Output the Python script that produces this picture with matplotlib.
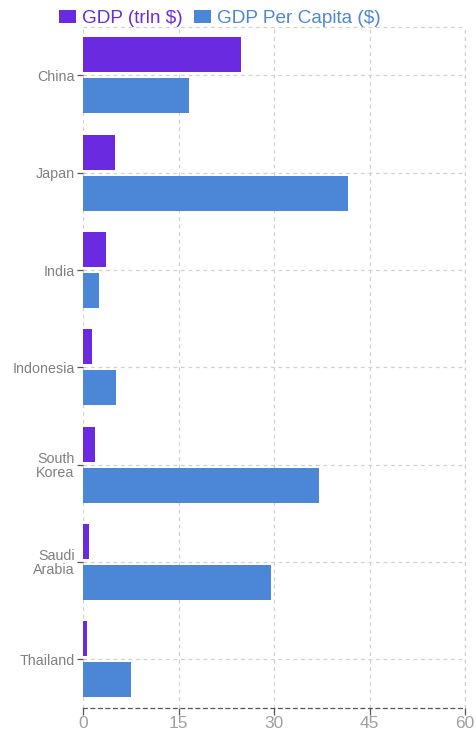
import matplotlib
matplotlib.use("Agg")
import matplotlib.pyplot as plt
import numpy as np

plt.rcParams['font.family'] = ['Liberation Sans', 'DejaVu Sans']

countries = ["China", "Japan", "India", "Indonesia", "South\nKorea", "Saudi\nArabia", "Thailand"]
gdp_trln = [24.8, 5.0, 3.6, 1.4, 1.9, 1.0, 0.6]
gdp_per_capita = [16.6, 41.6, 2.5, 5.2, 37.0, 29.5, 7.5]
x_ticks = [0, 15, 30, 45, 60]

purple = "#6A2BE0"
blue = "#4C86D6"

fig = plt.figure(figsize=(4.77, 7.31), dpi=100)
ax = fig.add_axes([0.174, 0.0315, 0.801, 0.932])

y = np.arange(len(countries))
h = 0.36
off = 0.21
ax.barh(y - off, gdp_trln, height=h, color=purple, label="GDP (trln $)", zorder=3)
ax.barh(y + off, gdp_per_capita, height=h, color=blue, label="GDP Per Capita ($)", zorder=3)

ax.set_ylim(len(countries) - 0.5, -0.5)
ax.set_xlim(0, 60)
ax.set_xticks(x_ticks)
ax.set_xticklabels([str(t) for t in x_ticks])
ax.set_yticks(y)
ax.set_yticklabels(countries, linespacing=0.95)

ax.grid(True, color="#d0d0d0", linestyle=(0, (3, 3)), linewidth=0.9, zorder=0)
for s in ["top", "right", "left"]:
    ax.spines[s].set_visible(False)
ax.spines["bottom"].set_linestyle((0, (3, 3)))
ax.spines["bottom"].set_color("#555555")
ax.spines["bottom"].set_linewidth(0.9)
ax.plot([0, 1], [1, 1], transform=ax.transAxes, color="#d0d0d0",
        linestyle=(0, (3, 3)), linewidth=0.9, clip_on=False, zorder=0)
ax.plot([1, 1], [0, 1], transform=ax.transAxes, color="#d0d0d0",
        linestyle=(0, (3, 3)), linewidth=0.9, clip_on=False, zorder=0)

ax.tick_params(axis="x", colors="#555555", labelcolor="#a0a0a0", labelsize=12.5,
               length=5, width=0.9, pad=1)
ax.tick_params(axis="y", colors="#555555", labelcolor="#808080", labelsize=10.3,
               length=4, width=0.9, pad=2)

leg = fig.legend(loc="upper left", bbox_to_anchor=(0.108, 0.997), ncol=2, frameon=False,
                 fontsize=13.7, handlelength=0.9, handleheight=0.7, handletextpad=0.3,
                 columnspacing=0.6, borderaxespad=0)
for t, c in zip(leg.get_texts(), [purple, blue]):
    t.set_color(c)

fig.savefig("out.png", dpi=100)
